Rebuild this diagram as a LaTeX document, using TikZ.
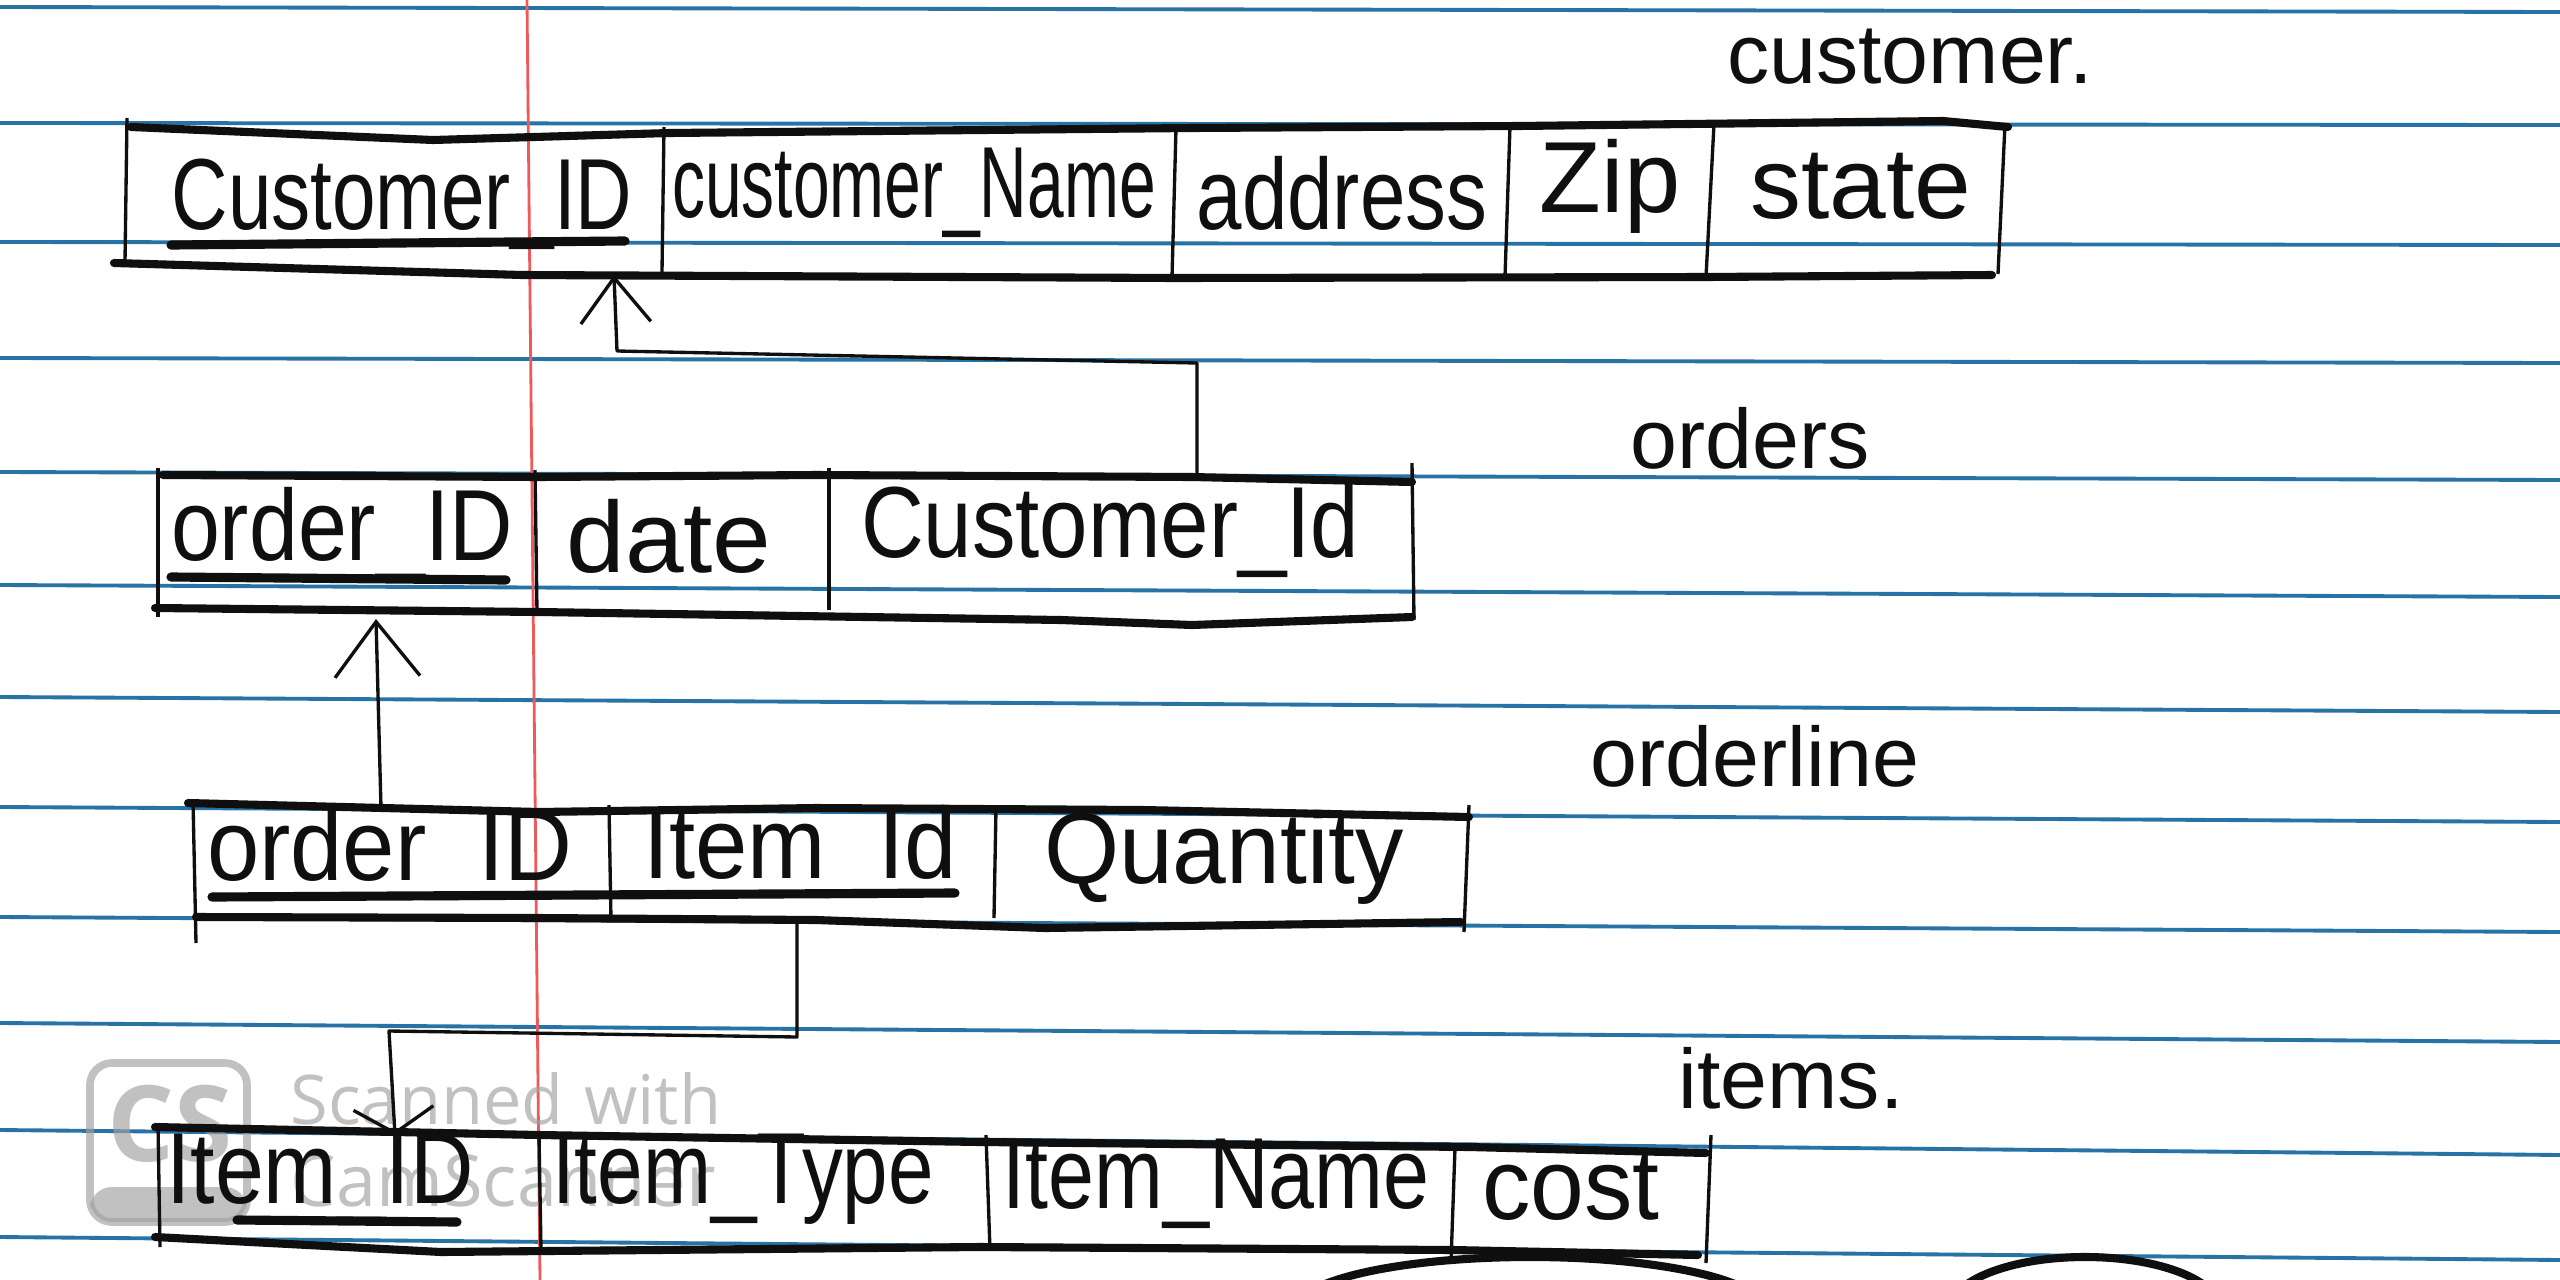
\documentclass[tikz,border=0pt]{standalone}
\usepackage{fontspec}
\setmainfont{Liberation Sans}
\newfontfamily\wmfont{Open Sans}
\usetikzlibrary{arrows.meta}

\definecolor{ruleblue}{RGB}{40,115,165}
\definecolor{marginred}{RGB}{238,90,90}
\definecolor{ink}{RGB}{15,15,15}
\definecolor{wmgrey}{RGB}{160,160,160}

\newcommand{\hw}[2][1]{\scalebox{#1}[1.15]{#2}}

\begin{document}
\begin{tikzpicture}[x=0.1mm,y=-0.1mm,
  cell/.style={font=\fontsize{25}{28}\selectfont, text=ink, inner sep=0pt},
  tname/.style={font=\fontsize{24}{28}\selectfont, text=ink, inner sep=0pt},
  rule/.style={ruleblue, line width=1.1pt},
  border/.style={ink, line width=2.3pt, line join=round, line cap=round},
  divider/.style={ink, line width=0.95pt},
  uline/.style={ink, line width=2.6pt, line cap=round},
  conn/.style={ink, line width=0.95pt, line join=round},
  wm/.style={wmgrey, opacity=0.65}]

% paper
\useasboundingbox (0,0) rectangle (2560,1280);
\fill[white] (0,0) rectangle (2560,1280);
\foreach \ya/\yb in {7/12,123/125,242/245,358/363,472/480,585/597,697/712,807/822,917/932,1023/1042,1130/1155,1237/1260}
  \draw[rule] (0,\ya) -- (2560,\yb);
\draw[marginred, line width=0.8pt] (527,0) -- (540,1280);

% watermark
\draw[wm, line width=2.2pt, rounded corners=2.2mm] (90,1063) rectangle (247,1222);
\fill[wm, rounded corners=2.2mm] (90,1187) -- (90,1222) -- (247,1222) -- (247,1187) -- cycle;
\node[wm, text=wmgrey, font=\fontsize{30}{32}\bfseries\wmfont, inner sep=0pt] (wmcs) at (170,1124) {CS};
\node[wm, text=wmgrey, font=\fontsize{19.5}{22}\wmfont, anchor=west, inner sep=0pt] (wmtop) at (290,1099) {Scanned\hspace{0.3em}with};
\node[wm, text=wmgrey, font=\fontsize{20.5}{22}\wmfont, anchor=west, inner sep=0pt] (wmbot) at (290,1181) {CamScanner};

% ---------- customer ----------
\node[tname] (lcust) at (1910,57) {customer.};
\draw[border] (131,127) -- (433,140) -- (669,133) -- (1192,128) -- (1518,126) -- (1943,121) -- (2008,127);
\draw[border] (114,263) -- (522,275) -- (1176,278) -- (1706,277) -- (1992,275);
\draw[divider] (127,118) -- (125,262);
\draw[divider] (2005,124) -- (1998,274);
\draw[divider] (664,127) -- (662,272);
\draw[divider] (1176,128) -- (1172,278);
\draw[divider] (1510,126) -- (1505,277);
\draw[divider] (1714,124) -- (1706,277);
\node[cell] (cpk) at (402,204) {\hw[0.89]{Customer\_ID}};
\node[cell] (cname) at (914,193) {\hw[0.75]{customer\_Name}};
\node[cell] (caddr) at (1342,193) {\hw[0.93]{address}};
\node[cell] (czip) at (1610,186) {\hw[1.15]{Zip}};
\node[cell] (cstate) at (1861,186) {\hw[1.16]{state}};
\draw[uline] (171,245) -- (625,241);

% ---------- orders ----------
\node[tname] (lord) at (1750,438) {orders};
\draw[border] (163,475) -- (539,477) -- (816,475) -- (1192,477) -- (1412,482);
\draw[border] (155,608) -- (539,612) -- (1061,620) -- (1192,625) -- (1412,617);
\draw[divider] (158,468) -- (158,617);
\draw[divider] (1412,463) -- (1414,620);
\draw[divider] (535,470) -- (537,612);
\draw[divider] (829,468) -- (829,610);
\node[cell] (opk) at (342,534) {\hw[1.0]{order\_ID}};
\node[cell] (odate) at (669,536) {\hw[1.2]{date}};
\node[cell] (ofk) at (1110,531) {\hw[0.99]{Customer\_Id}};
\draw[uline] (171,577) -- (506,580);

% ---------- orderline ----------
\node[tname] (lline) at (1755,756) {orderline};
\draw[border] (188,803) -- (539,812) -- (816,808) -- (1143,810) -- (1469,817);
\draw[border] (196,917) -- (539,918) -- (816,920) -- (1045,928) -- (1461,922);
\draw[divider] (193,800) -- (196,943);
\draw[divider] (1469,805) -- (1464,932);
\draw[divider] (609,805) -- (611,920);
\draw[divider] (996,808) -- (994,918);
\node[cell] (lopk) at (390,854) {\hw[1.07]{order\_ID}};
\node[cell] (lipk) at (800,852) {\hw[1.07]{Item\_Id}};
\node[cell] (lqty) at (1224,857) {\hw[1.1]{Quantity}};
\draw[uline] (212,897) -- (955,893);

% ---------- items ----------
\node[tname] (litems) at (1791,1078) {items.};
\draw[border] (155,1127) -- (539,1135) -- (980,1142) -- (1469,1147) -- (1706,1153);
\draw[border] (155,1237) -- (441,1252) -- (980,1247) -- (1453,1250) -- (1698,1255);
\draw[divider] (158,1123) -- (160,1247);
\draw[divider] (1711,1135) -- (1706,1263);
\draw[divider] (539,1135) -- (541,1250);
\draw[divider] (986,1135) -- (990,1250);
\draw[divider] (1455,1148) -- (1451,1262);
\node[cell] (ipk) at (320,1179) {\hw[1.0]{Item\_ID}};
\node[cell] (itype) at (743,1179) {\hw[0.93]{Item\_Type}};
\node[cell] (iname) at (1216,1184) {\hw[0.94]{Item\_Name}};
\node[cell] (icost) at (1571,1187) {\hw[1.1]{cost}};
\draw[uline] (237,1220) -- (457,1222);

% partial shapes at the bottom edge
\draw[border] (1530,1310) ellipse [x radius=235, y radius=53];
\draw[border] (2085,1310) ellipse [x radius=135, y radius=53];

% ---------- connectors ----------
\coordinate (ordCustFK) at (1197,477);
\coordinate (bendA1) at (1197,363);
\coordinate (bendA2) at (617,351);
\coordinate (custPKin) at (614,275);
\draw[conn, -{Straight Barb[length=4.5mm,width=7mm,line width=0.95pt]}]
  (ordCustFK) -- (bendA1) -- (bendA2) -- (custPKin);

\coordinate (lineOrdFK) at (381,808);
\coordinate (ordPKin) at (376,619);
\draw[conn, -{Straight Barb[length=5.5mm,width=8.5mm,line width=0.95pt]}]
  (lineOrdFK) -- (ordPKin);

\coordinate (lineItemFK) at (797,922);
\coordinate (bendB1) at (797,1037);
\coordinate (bendB2) at (389,1031);
\coordinate (itemPKin) at (395,1135);
\draw[conn, -{Straight Barb[length=2.5mm,width=8mm,line width=0.95pt]}]
  (lineItemFK) -- (bendB1) -- (bendB2) -- (itemPKin);

\end{tikzpicture}
\end{document}
